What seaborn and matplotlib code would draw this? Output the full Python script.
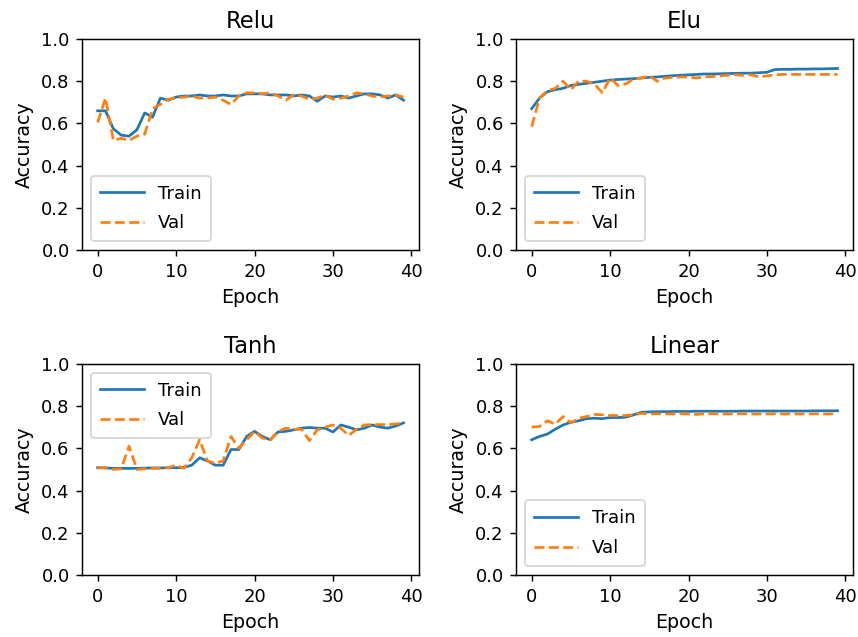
import seaborn as sns
import matplotlib.pyplot as plt
import numpy as np

epochs = np.arange(40)

relu_train = [0.66, 0.66, 0.575, 0.545, 0.54, 0.57, 0.65, 0.63, 0.72, 0.71,
              0.725, 0.73, 0.73, 0.735, 0.73, 0.73, 0.735, 0.73, 0.73, 0.74,
              0.74, 0.74, 0.735, 0.735, 0.735, 0.73, 0.735, 0.73, 0.705, 0.73,
              0.725, 0.73, 0.72, 0.73, 0.74, 0.74, 0.735, 0.72, 0.735, 0.71]
relu_val = [0.605, 0.72, 0.52, 0.53, 0.52, 0.54, 0.55, 0.67, 0.69, 0.715,
            0.72, 0.725, 0.73, 0.72, 0.72, 0.725, 0.71, 0.69, 0.73, 0.745,
            0.745, 0.74, 0.745, 0.73, 0.71, 0.735, 0.73, 0.715, 0.72, 0.735,
            0.715, 0.72, 0.73, 0.745, 0.74, 0.73, 0.725, 0.73, 0.735, 0.725]

elu_train = [0.67, 0.72, 0.75, 0.76, 0.766, 0.78, 0.785, 0.79, 0.795, 0.80,
             0.805, 0.808, 0.81, 0.812, 0.815, 0.818, 0.82, 0.823, 0.826, 0.828,
             0.83, 0.832, 0.834, 0.834, 0.835, 0.836, 0.837, 0.838, 0.838, 0.84,
             0.842, 0.855, 0.856, 0.856, 0.857, 0.857, 0.858, 0.858, 0.859, 0.86]
elu_val = [0.585, 0.72, 0.755, 0.766, 0.80, 0.76, 0.80, 0.80, 0.787, 0.745,
           0.815, 0.78, 0.787, 0.81, 0.815, 0.825, 0.80, 0.815, 0.818, 0.82,
           0.82, 0.815, 0.82, 0.822, 0.825, 0.828, 0.83, 0.828, 0.83, 0.82,
           0.825, 0.83, 0.832, 0.832, 0.832, 0.832, 0.832, 0.832, 0.832, 0.832]

tanh_train = [0.508, 0.507, 0.505, 0.505, 0.505, 0.505, 0.506, 0.507, 0.507, 0.508,
              0.508, 0.51, 0.52, 0.555, 0.54, 0.52, 0.52, 0.594, 0.594, 0.656,
              0.68, 0.656, 0.64, 0.677, 0.68, 0.687, 0.695, 0.698, 0.695, 0.695,
              0.677, 0.71, 0.70, 0.687, 0.695, 0.71, 0.70, 0.695, 0.705, 0.72]
tanh_val = [0.508, 0.508, 0.50, 0.503, 0.61, 0.50, 0.503, 0.505, 0.505, 0.508,
            0.52, 0.505, 0.555, 0.64, 0.54, 0.53, 0.54, 0.656, 0.60, 0.64,
            0.68, 0.648, 0.64, 0.68, 0.695, 0.69, 0.69, 0.636, 0.687, 0.70,
            0.71, 0.695, 0.66, 0.69, 0.71, 0.712, 0.712, 0.712, 0.715, 0.72]

linear_train = [0.64, 0.656, 0.667, 0.69, 0.71, 0.723, 0.73, 0.74, 0.742, 0.74,
                0.745, 0.745, 0.747, 0.758, 0.77, 0.772, 0.773, 0.773, 0.774, 0.774,
                0.774, 0.775, 0.775, 0.775, 0.775, 0.775, 0.775, 0.776, 0.776, 0.776,
                0.776, 0.776, 0.776, 0.776, 0.776, 0.776, 0.777, 0.777, 0.777, 0.777]
linear_val = [0.70, 0.703, 0.73, 0.714, 0.75, 0.72, 0.742, 0.75, 0.76, 0.758,
              0.755, 0.755, 0.755, 0.758, 0.765, 0.762, 0.763, 0.762, 0.762, 0.763,
              0.762, 0.76, 0.762, 0.763, 0.762, 0.762, 0.762, 0.763, 0.762, 0.762,
              0.762, 0.763, 0.762, 0.762, 0.762, 0.762, 0.763, 0.762, 0.762, 0.763]

runs = [("Relu", relu_train, relu_val),
        ("Elu", elu_train, elu_val),
        ("Tanh", tanh_train, tanh_val),
        ("Linear", linear_train, linear_val)]

# render at a higher dpi so fonts/lines scale like the original
fig, axes = plt.subplots(2, 2, figsize=(858 / 130, 637 / 130), dpi=130)

for ax, (name, train, val) in zip(axes.flat, runs):
    sns.lineplot(x=epochs, y=train, ax=ax, label="Train")
    sns.lineplot(x=epochs, y=val, ax=ax, label="Val", linestyle="--")
    ax.set_title(name, fontsize=12.5)
    ax.set_xlabel("Epoch", fontsize=10.5)
    ax.set_ylabel("Accuracy", fontsize=10.5)
    ax.set_ylim(0, 1)
    ax.legend(handlelength=2.4, labelspacing=0.65, borderpad=0.5)

plt.subplots_adjust(left=0.096, right=0.994, top=0.939, bottom=0.097,
                    wspace=0.29, hspace=0.535)
plt.savefig("out.png")
